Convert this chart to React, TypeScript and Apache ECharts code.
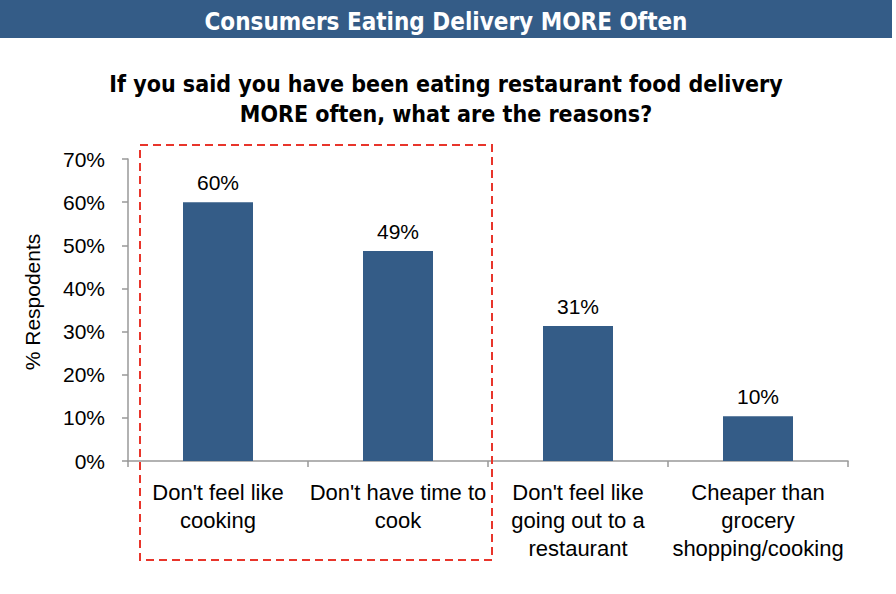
import React, { useEffect, useRef } from "react";
import * as echarts from "echarts";

const categories = [
  "Don't feel like\ncooking",
  "Don't have time to\ncook",
  "Don't feel like\ngoing out to a\nrestaurant",
  "Cheaper than\ngrocery\nshopping/cooking",
];
const values = [60, 48.7, 31.3, 10.4];
const yTicks = [0, 10, 20, 30, 40, 50, 60, 70];

const headerText = "Consumers Eating Delivery MORE Often";
const subtitleText =
  "If you said you have been eating restaurant food delivery\nMORE often, what are the reasons?";
const yAxisName = "% Respodents";

const BLUE = "#345c87";
const FONT = "'Liberation Sans', Arial, Helvetica, sans-serif";
const NARROW = "'Liberation Sans Narrow', 'DejaVu Sans Condensed', 'Liberation Sans', sans-serif";

export default function App() {
  const ref = useRef<HTMLDivElement>(null);
  useEffect(() => {
    if (!ref.current) return;
    const chart = echarts.init(ref.current, undefined, { renderer: "svg" });
    chart.setOption({
      animation: false,
      backgroundColor: "#ffffff",
      graphic: [
        {
          type: "rect",
          shape: { x: 0, y: 0, width: 892, height: 38 },
          style: { fill: BLUE },
          z: 0,
        },
        {
          type: "rect",
          shape: { x: 140, y: 145, width: 352, height: 415 },
          style: { fill: "none", stroke: "#e8352b", lineWidth: 2, lineDash: [8, 5] },
          z: 10,
        },
        {
          type: "text",
          x: 32,
          y: 302,
          rotation: Math.PI / 2,
          style: {
            text: yAxisName,
            align: "center",
            verticalAlign: "middle",
            fill: "#000000",
            fontSize: 21,
            fontFamily: FONT,
          },
        },
      ],
      title: [
        {
          text: headerText,
          left: 441,
          top: 5,
          textAlign: "center",
          textStyle: { color: "#ffffff", fontSize: 24, fontWeight: "bold", fontFamily: NARROW },
          z: 5,
        },
        {
          text: subtitleText,
          left: 441,
          top: 64,
          textAlign: "center",
          textStyle: {
            color: "#000000",
            fontSize: 23,
            fontWeight: "bold",
            fontFamily: NARROW,
            lineHeight: 30,
          },
        },
      ],
      grid: { left: 128, right: 48, top: 159, bottom: 133, containLabel: false },
      xAxis: {
        type: "category",
        data: categories,
        axisLine: { show: true, lineStyle: { color: "#999999", width: 1.5 } },
        axisTick: { show: true, length: 6, lineStyle: { color: "#999999", width: 1.5 } },
        axisLabel: {
          color: "#000000",
          fontSize: 22,
          fontFamily: FONT,
          lineHeight: 28,
          margin: 17,
          interval: 0,
        },
      },
      yAxis: {
        type: "value",
        min: yTicks[0],
        max: yTicks[yTicks.length - 1],
        interval: 10,
        axisLine: { show: true, lineStyle: { color: "#999999", width: 1.5 } },
        axisTick: { show: true, length: 6, lineStyle: { color: "#999999", width: 1.5 } },
        splitLine: { show: false },
        axisLabel: {
          formatter: "{value}%",
          color: "#000000",
          fontSize: 21,
          fontFamily: FONT,
          margin: 23,
        },
      },
      series: [
        {
          type: "bar",
          data: values,
          barWidth: 70,
          itemStyle: { color: BLUE },
          label: {
            show: true,
            position: "top",
            distance: 9,
            color: "#000000",
            fontSize: 21,
            fontFamily: FONT,
            formatter: (p: any) => Math.round(p.value) + "%",
          },
        },
      ],
    });
    return () => chart.dispose();
  }, []);
  return (
    <div
      ref={ref}
      style={{ position: "absolute", left: 0, top: 0, width: 896, height: 594 }}
    />
  );
}
